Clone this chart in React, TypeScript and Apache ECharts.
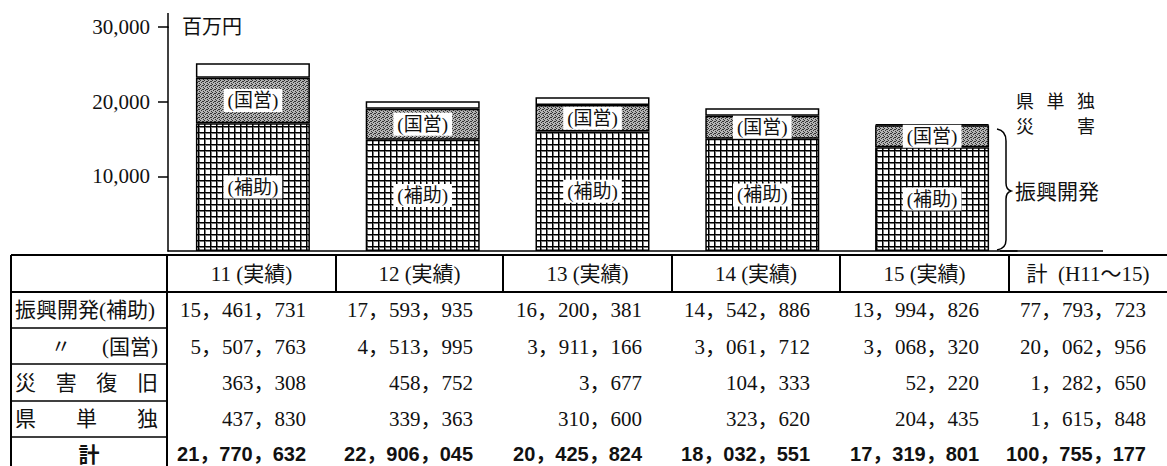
import React, { useEffect, useRef } from 'react';
import * as echarts from 'echarts';

// ---- Chart values (百万円) ----
const categories = ['11', '12', '13', '14', '15'];
const hojoValues = [17110, 14890, 16000, 15020, 13900];
const kokueiValues = [6080, 4150, 3570, 3080, 2950];
const kentanSaigaiValues = [1950, 1010, 1020, 1020, 130];
const yTickValues = [10000, 20000, 30000];

// ---- Table values (千円) ----
const tableHeaders = ['11 (実績)', '12 (実績)', '13 (実績)', '14 (実績)', '15 (実績)', '計\u2002(H11～15)'];
const shinkoHojoRow = [15461731, 17593935, 16200381, 14542886, 13994826, 77793723];
const shinkoKokueiRow = [5507763, 4513995, 3911166, 3061712, 3068320, 20062956];
const saigaiRow = [363308, 458752, 3677, 104333, 52220, 1282650];
const kentanRow = [437830, 339363, 310600, 323620, 204435, 1615848];
const totalRow = [21770632, 22906045, 20425824, 18032551, 17319801, 100755177];

const SERIF = '"Liberation Serif", "Noto Sans CJK JP", serif';
const SANS = '"Liberation Sans", "Noto Sans CJK JP", sans-serif';
const INK = '#111';

const fmt = (n: number) => n.toLocaleString('en-US').replace(/,/g, '，');

function makeGridPattern(): HTMLCanvasElement {
  const c = document.createElement('canvas');
  c.width = 6; c.height = 6;
  const ctx = c.getContext('2d')!;
  ctx.fillStyle = '#ffffff';
  ctx.fillRect(0, 0, 6, 6);
  ctx.fillStyle = '#777';
  ctx.fillRect(0, 1, 6, 1);
  ctx.fillRect(1, 0, 1, 6);
  ctx.fillStyle = '#000';
  ctx.fillRect(0, 0, 6, 1);
  ctx.fillRect(0, 0, 1, 6);
  return c;
}

function makeStipplePattern(): HTMLCanvasElement {
  const c = document.createElement('canvas');
  c.width = 4; c.height = 4;
  const ctx = c.getContext('2d')!;
  ctx.fillStyle = '#b4b4b4';
  ctx.fillRect(0, 0, 4, 4);
  ctx.fillStyle = '#333';
  [[0, 0], [2, 1], [1, 2], [3, 3], [3, 1]].forEach(([x, y]) => ctx.fillRect(x, y, 1, 1));
  return c;
}

function line(x1: number, y1: number, x2: number, y2: number, lw = 2) {
  return { type: 'line', shape: { x1, y1, x2, y2 }, style: { stroke: '#000', lineWidth: lw }, silent: true };
}

function text(t: string, x: number, y: number, opts: any = {}) {
  return {
    type: 'text',
    x, y,
    silent: true,
    style: {
      text: t,
      fill: INK,
      fontSize: opts.fontSize ?? 21,
      fontFamily: opts.fontFamily ?? SERIF,
      fontWeight: opts.fontWeight ?? 'normal',
      align: opts.align ?? 'left',
      verticalAlign: 'middle',
    },
  };
}

function justify(chars: string, left: number, right: number, y: number, fontSize: number, opts: any = {}) {
  const arr = Array.from(chars);
  const n = arr.length;
  const gap = n > 1 ? (right - left - n * fontSize) / (n - 1) : 0;
  return arr.map((ch, i) => text(ch, left + i * (fontSize + gap), y, { fontSize, ...opts }));
}

const bracePath =
  'M997,129 C1003,130 1006,134 1006,141 L1006,183 C1006,188 1008,190 1011,191 C1008,192 1006,194 1006,199 L1006,240 C1006,246 1003,249 997,250';

export default function App() {
  const ref = useRef<HTMLDivElement>(null);

  useEffect(() => {
    document.body.style.margin = '0';
    if (!ref.current) return;
    try {
      echarts.graphic.registerShape('brace', echarts.graphic.extendPath(bracePath, {}));
    } catch (e) {}
    const chart = echarts.init(ref.current, undefined, { renderer: 'svg' });

    const gridPat = { image: makeGridPattern(), repeat: 'repeat' };
    const stipPat = { image: makeStipplePattern(), repeat: 'repeat' };

    const cols = [11, 167, 336, 503, 672, 840, 1009, 1167];
    const tTop = 255, hBottom = 292, tBottom = 466;
    const rowSeps = [328, 364, 401, 437];
    const rowY = [310, 346.5, 383, 419, 454];
    const headerY = 273.5;

    const g: any[] = [];
    // table lines
    g.push(line(cols[0], tTop, 1167, tTop, 2));
    g.push(line(cols[0], hBottom, 1167, hBottom, 2));
    g.push(line(cols[0], tTop, cols[0], tBottom, 2));
    g.push(line(cols[1], tTop, cols[1], tBottom, 2));
    for (let i = 2; i < cols.length - 1; i++) g.push(line(cols[i], tTop, cols[i], hBottom, 2));
    rowSeps.forEach((y) => g.push(line(cols[0], y, cols[1], y, 1.5)));

    // headers
    tableHeaders.forEach((h, c) => {
      g.push(text(h, (cols[c + 1] + cols[c + 2]) / 2, headerY, { align: 'center', fontSize: 21 }));
    });

    // row labels
    g.push(text('振興開発(補助)', 15, rowY[0], { fontSize: 21 }));
    g.push(text('〃', 51, rowY[1], { fontSize: 20 }));
    g.push(text('(国営)', 158, rowY[1], { fontSize: 21, align: 'right' }));
    g.push(...justify('災害復旧', 15, 158, rowY[2], 21));
    g.push(...justify('県単独', 15, 158, rowY[3], 21));
    g.push(text('計', 89, rowY[4], { fontSize: 21, align: 'center', fontFamily: SANS, fontWeight: 'bold' }));

    // numbers
    const rows = [shinkoHojoRow, shinkoKokueiRow, saigaiRow, kentanRow, totalRow];
    rows.forEach((row, r) => {
      row.forEach((v, c) => {
        const x = c < 5 ? cols[c + 2] - 30 : 1167 - 21;
        const bold = r === 4;
        g.push(
          text(fmt(v), x, rowY[r], {
            align: 'right',
            fontSize: bold ? 20 : 21,
            fontFamily: bold ? SANS : SERIF,
            fontWeight: bold ? 'bold' : 'normal',
          })
        );
      });
    });

    // chart extras
    g.push(line(168, 13, 168, 28, 1.5));
    g.push(line(1000, 251, 1103, 251, 1.5));
    g.push(text('百万円', 182, 27, { fontSize: 20 }));
    g.push(...justify('県単独', 1016, 1095, 102, 18));
    g.push(text('災', 1016, 127, { fontSize: 18 }));
    g.push(text('害', 1077, 127, { fontSize: 18 }));
    g.push(text('振興開発', 1015, 192, { fontSize: 21 }));
    g.push({ type: 'brace', x: 0, y: 0, silent: true, style: { stroke: '#000', lineWidth: 1.5, fill: 'none' } });

    const barLabel = (t: string) => ({
      show: true,
      position: 'inside',
      formatter: t,
      backgroundColor: '#fff',
      padding: [2, 4],
      fontSize: 19,
      lineHeight: 19,
      fontFamily: SERIF,
      color: INK,
    });

    chart.setOption({
      animation: false,
      backgroundColor: '#fff',
      grid: { left: 168, right: 150, top: 27, bottom: 215, containLabel: false },
      xAxis: {
        type: 'category',
        data: categories,
        axisLabel: { show: false },
        axisTick: { show: false },
        axisLine: { show: true, lineStyle: { color: '#000', width: 1.5 } },
      },
      yAxis: {
        type: 'value',
        min: 0,
        max: 30000,
        interval: 10000,
        splitLine: { show: false },
        axisLine: { show: true, lineStyle: { color: '#000', width: 1.5 } },
        axisTick: { show: true, length: 10, customValues: yTickValues, lineStyle: { color: '#000', width: 1.5 } },
        axisLabel: {
          customValues: yTickValues,
          formatter: (v: number) => v.toLocaleString('en-US'),
          fontSize: 21,
          fontFamily: SERIF,
          color: INK,
          margin: 18,
        },
      },
      series: [
        {
          name: '振興開発(補助)',
          type: 'bar',
          stack: 'total',
          barWidth: 114,
          data: hojoValues,
          itemStyle: { color: gridPat, borderColor: '#000', borderWidth: 1.5 },
          label: barLabel('(補助)'),
        },
        {
          name: '振興開発(国営)',
          type: 'bar',
          stack: 'total',
          barWidth: 114,
          data: kokueiValues,
          itemStyle: { color: stipPat, borderColor: '#000', borderWidth: 1.5 },
          label: barLabel('(国営)'),
        },
        {
          name: '県単独・災害',
          type: 'bar',
          stack: 'total',
          barWidth: 114,
          data: kentanSaigaiValues,
          itemStyle: { color: '#fff', borderColor: '#000', borderWidth: 1.5 },
        },
      ],
      graphic: g,
    });

    return () => chart.dispose();
  }, []);

  return <div ref={ref} style={{ width: 1167, height: 466 }} />;
}
